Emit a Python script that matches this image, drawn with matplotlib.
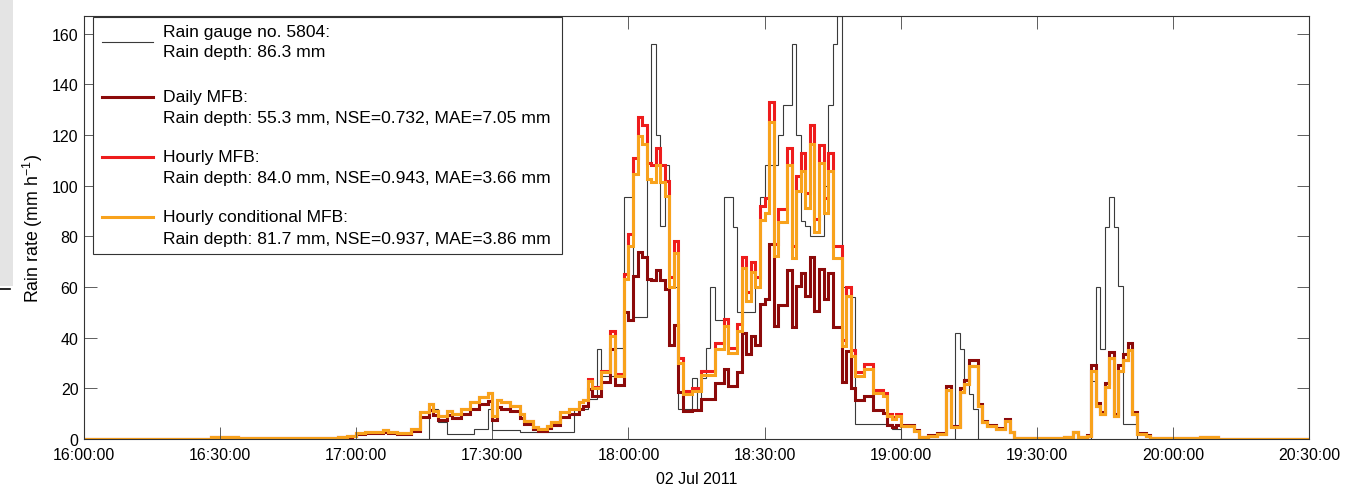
import datetime as dt

import numpy as np
import matplotlib
matplotlib.use("Agg")
import matplotlib.pyplot as plt
import matplotlib.dates as mdates
from matplotlib.lines import Line2D
from matplotlib.patches import Rectangle

plt.rcParams["font.family"] = ["Liberation Sans", "DejaVu Sans"]
plt.rcParams["mathtext.default"] = "regular"

W, H = 1370, 485
T0 = dt.datetime(2011, 7, 2, 16, 0)
N_MIN = 270        # 16:00 -> 20:30, one value per minute
FIRST_MIN = 20     # the lists below start at 16:20 (zero before / after)

# rain rate (mm/h), one value per minute from 16:20 to 20:19
gauge = [
    0, 0, 0, 0, 0, 0, 0, 0, 0, 0,                      # 16:20
    0, 0, 0, 0, 0, 0, 0, 0, 0, 0,                      # 16:30
    0, 0, 0, 0, 0, 0, 0, 0, 0, 0,                      # 16:40
    0, 0, 0, 0, 0, 0, 0, 0, 0, 0,                      # 16:50
    0, 0, 0, 0, 0, 0, 0, 0, 0, 0,                      # 17:00
    0, 0, 0, 0, 0, 0, 12, 12, 6.6, 6.6,                # 17:10
    2, 2, 2, 2, 2, 2, 4, 4, 4, 12,                     # 17:20
    3.5, 3.5, 3.5, 3.5, 3.5, 3.5, 2.6, 2.6, 2.6, 2.6,  # 17:30
    2.6, 2.6, 2.6, 2.6, 2.6, 2.6, 2.6, 2.6, 12, 12,    # 17:40
    12, 15.8, 15.8, 35.6, 25, 25, 25, 36, 36, 95.5,    # 17:50
    95.5, 48, 48, 48, 109, 156, 120, 84, 108, 60,      # 18:00
    60, 12, 12, 12, 24, 12, 24, 36, 60, 47,            # 18:10
    47, 95.5, 95.5, 83.6, 50, 50, 50, 50, 60, 95.6,    # 18:20
    108, 108, 108, 120, 132, 132, 156, 120, 86, 84,    # 18:30
    80, 80, 80, 100, 132, 156, 167, 60, 56, 56,        # 18:40
    6, 6, 6, 6, 6, 6, 6, 6, 4, 4,                      # 18:50
    0, 0, 0, 0, 0, 0, 0, 0, 0, 0,                      # 19:00
    0, 0, 42, 35.6, 23.7, 17.8, 11.9, 0, 0, 0,         # 19:10
    0, 0, 0, 0, 0, 0, 0, 0, 0, 0,                      # 19:20
    0, 0, 0, 0, 0, 0, 0, 0, 0, 0,                      # 19:30
    0, 0, 23, 60, 35.6, 83.7, 95.6, 83.7, 60.6, 5.9,   # 19:40
    5.9, 5.9, 0, 0, 0, 0, 0, 0, 0, 0,                  # 19:50
    0, 0, 0, 0, 0, 0, 0, 0, 0, 0,                      # 20:00
    0, 0, 0, 0, 0, 0, 0, 0, 0, 0,                      # 20:10
]

daily_mfb = [
    0, 0, 0, 0, 0, 0, 0, 0, 0.6, 0.6,
    0.6, 0.6, 0.6, 0.6, 0.2, 0.2, 0.2, 0.2, 0.2, 0.2,
    0.2, 0.2, 0.2, 0.2, 0.2, 0.5, 0.5, 0.5, 0.5, 0.5,
    0.5, 0.5, 0.5, 0.5, 0.5, 0.5, 0.6, 0.7, 0.9, 1.0,
    2.0, 2.0, 2.4, 2.4, 2.2, 2.2, 2.9, 2.2, 2.2, 2.0,
    2.0, 2.0, 3.3, 3.3, 8.7, 8.7, 11.5, 9.3, 7.6, 7.6,
    9.3, 8.2, 8.2, 9.9, 9.9, 12.0, 12.0, 13.7, 13.7, 15.1,
    7.6, 12.6, 12.0, 12.0, 11.0, 11.0, 8.2, 6.0, 6.0, 3.8,
    3.3, 3.3, 4.4, 5.5, 5.5, 8.7, 8.7, 9.9, 9.9, 12.0,
    12.9, 19.7, 17.0, 17.0, 22.4, 22.4, 35.5, 21.3, 21.3, 50.0,
    47, 64.4, 73.7, 71.9, 63.2, 62.6, 66.7, 62.6, 59.2, 37.1,
    45.2, 18.6, 11.0, 11.0, 11.6, 11.6, 15.7, 15.7, 15.7, 22.0,
    22.0, 27.6, 20.9, 20.9, 26.4, 41.8, 33.6, 40.6, 37.1, 53.4,
    55.1, 77.1, 44.7, 52.8, 52.8, 66.7, 44.1, 60.3, 65.5, 56.3,
    71.9, 50.5, 67.3, 55.1, 65.5, 44.1, 44.1, 22.6, 34.8, 20.3,
    15.4, 15.4, 17.1, 17.1, 11.3, 11.3, 10.4, 5.7, 4.9, 5.7,
    5.7, 5.7, 5.7, 3.6, 0.8, 0.8, 1.4, 1.4, 2.2, 2.2,
    21.0, 5.0, 5.0, 20.2, 23.4, 31.3, 31.3, 14.0, 7.1, 5.7,
    5.7, 4.3, 4.3, 7.8, 2.8, 0.3, 0.3, 0.3, 0.3, 0.3,
    0.3, 0.3, 0.3, 0.3, 0.3, 0.3, 0.8, 0.8, 2.8, 0.8,
    0.8, 1.4, 29.3, 14.3, 10.7, 22.0, 34.5, 9.9, 29.2, 33.5,
    37.8, 10.7, 2.2, 2.2, 1.4, 0.3, 0.3, 0.2, 0.2, 0.2,
    0.2, 0.2, 0.2, 0.2, 0.2, 0.2, 0.9, 0.9, 0.9, 0.9,
    0, 0, 0, 0, 0, 0, 0, 0, 0, 0,
]

hourly_mfb = [
    0, 0, 0, 0, 0, 0, 0, 0, 0.6, 0.6,
    0.6, 0.6, 0.6, 0.6, 0.2, 0.2, 0.2, 0.2, 0.2, 0.2,
    0.2, 0.2, 0.2, 0.2, 0.2, 0.5, 0.5, 0.5, 0.5, 0.5,
    0.5, 0.5, 0.5, 0.5, 0.5, 0.5, 0.7, 0.8, 1.0, 1.2,
    2.4, 2.4, 2.9, 2.9, 2.6, 2.6, 3.5, 2.6, 2.6, 2.4,
    2.4, 2.4, 4.0, 4.0, 10.5, 10.5, 13.8, 11.2, 9.2, 9.2,
    11.2, 9.9, 9.9, 11.9, 11.9, 14.5, 14.5, 16.5, 16.5, 18.2,
    9.2, 15.2, 14.5, 14.5, 13.2, 13.2, 9.9, 7.2, 7.2, 4.6,
    4.0, 4.0, 5.3, 6.6, 6.6, 10.5, 10.5, 11.9, 11.9, 14.5,
    15.5, 23.7, 20.5, 20.5, 27.0, 27.0, 42.8, 25.7, 25.7, 65.0,
    81, 111, 127, 124, 109, 108, 115, 108, 102, 64,
    78, 32, 19, 19, 20, 20, 27, 27, 27, 38,
    38, 47.5, 36, 36, 45.5, 72, 58, 70, 64, 92,
    95, 133, 77, 91, 91, 115, 76, 104, 113, 97,
    124, 87, 116, 95, 113, 76, 76, 39, 60, 35,
    26.5, 26.5, 29.5, 29.5, 19.5, 19.5, 18, 9.8, 8.5, 9.8,
    5.3, 5.3, 5.3, 3.3, 0.7, 0.7, 1.3, 1.3, 2.0, 2.0,
    19.5, 4.6, 4.6, 18.7, 21.7, 29, 29, 13, 6.6, 5.3,
    5.3, 4.0, 4.0, 7.2, 2.6, 0.3, 0.3, 0.3, 0.3, 0.3,
    0.3, 0.3, 0.3, 0.3, 0.3, 0.3, 0.7, 0.7, 2.6, 0.7,
    0.7, 1.3, 27, 13.2, 9.9, 20.4, 31.9, 9.2, 27, 31,
    35, 9.9, 2, 2, 1.3, 0.3, 0.3, 0.2, 0.2, 0.2,
    0.2, 0.2, 0.2, 0.2, 0.2, 0.2, 0.9, 0.9, 0.9, 0.9,
    0, 0, 0, 0, 0, 0, 0, 0, 0, 0,
]

hourly_cond_mfb = [
    0, 0, 0, 0, 0, 0, 0, 0, 0.6, 0.6,
    0.6, 0.6, 0.6, 0.6, 0.2, 0.2, 0.2, 0.2, 0.2, 0.2,
    0.2, 0.2, 0.2, 0.2, 0.2, 0.5, 0.5, 0.5, 0.5, 0.5,
    0.5, 0.5, 0.5, 0.5, 0.5, 0.5, 0.7, 0.8, 1.0, 1.2,
    2.4, 2.4, 2.9, 2.9, 2.6, 2.6, 3.5, 2.6, 2.6, 2.4,
    2.4, 2.4, 4.0, 4.0, 10.5, 10.5, 13.8, 11.2, 9.2, 9.2,
    11.2, 9.9, 9.9, 11.9, 11.9, 14.5, 14.5, 16.5, 16.5, 18.2,
    9.2, 15.2, 14.5, 14.5, 13.2, 13.2, 9.9, 7.2, 7.2, 4.6,
    4.0, 4.0, 5.3, 6.6, 6.6, 10.5, 10.5, 11.9, 11.9, 14.5,
    15.5, 23.0, 20.0, 20.0, 26.5, 26.5, 40.8, 25.0, 25.0, 63.0,
    76, 104.5, 119.5, 116.5, 102.5, 101.5, 108, 101.5, 96, 60,
    73.5, 30, 17.8, 17.8, 18.8, 18.8, 25.4, 25.4, 25.4, 35.7,
    35.7, 44.7, 33.8, 33.8, 42.8, 67.7, 54.5, 65.8, 60.2, 86.5,
    89.3, 125, 72.4, 85.5, 85.5, 108, 71.4, 97.8, 106, 91.2,
    116.6, 81.8, 109, 89.3, 106, 71.4, 71.4, 36.7, 56.4, 32.9,
    24.9, 24.9, 27.7, 27.7, 18.3, 18.3, 17, 9.2, 8, 9.2,
    5.3, 5.3, 5.3, 3.3, 0.7, 0.7, 1.3, 1.3, 2.0, 2.0,
    19.5, 4.6, 4.6, 18.7, 21.7, 29, 29, 13, 6.6, 5.3,
    5.3, 4.0, 4.0, 7.2, 2.6, 0.3, 0.3, 0.3, 0.3, 0.3,
    0.3, 0.3, 0.3, 0.3, 0.3, 0.3, 0.7, 0.7, 2.6, 0.7,
    0.7, 1.3, 27, 13.2, 9.9, 20.4, 31.9, 9.2, 27, 31,
    35, 9.9, 2, 2, 1.3, 0.3, 0.3, 0.2, 0.2, 0.2,
    0.2, 0.2, 0.2, 0.2, 0.2, 0.2, 0.9, 0.9, 0.9, 0.9,
    0, 0, 0, 0, 0, 0, 0, 0, 0, 0,
]

labels = [
    ("Rain gauge no. 5804:", "Rain depth: 86.3 mm"),
    ("Daily MFB:", "Rain depth: 55.3 mm, NSE=0.732, MAE=7.05 mm"),
    ("Hourly MFB:", "Rain depth: 84.0 mm, NSE=0.943, MAE=3.66 mm"),
    ("Hourly conditional MFB:", "Rain depth: 81.7 mm, NSE=0.937, MAE=3.86 mm"),
]
series = [gauge, daily_mfb, hourly_mfb, hourly_cond_mfb]
colors = ["#3a3a3a", "#8c0a0a", "#ee1c1c", "#f8a21c"]
widths = [0.8, 2.2, 2.2, 2.2]


def pad(vals):
    out = np.zeros(N_MIN)
    out[FIRST_MIN:FIRST_MIN + len(vals)] = vals
    return out


def fx(px):
    return px / W


def fy(py):
    return 1 - py / H


edges = mdates.date2num([T0 + dt.timedelta(minutes=i) for i in range(N_MIN + 1)])

fig = plt.figure(figsize=(W / 100, H / 100), dpi=100)

# grey strip + tick left over from the cropped neighbouring panel
fig.patches.append(Rectangle((0, fy(287)), fx(13), 1 - fy(287),
                             transform=fig.transFigure, facecolor="#e4e4e4",
                             edgecolor="none", zorder=0))
fig.add_artist(Line2D([0, fx(10)], [fy(290), fy(290)], color="black", lw=1.2,
                      transform=fig.transFigure))

ax = fig.add_axes([fx(84), fy(440), fx(1309) - fx(84), fy(17) - fy(440)])

for vals, c, lw in zip(series, colors, widths):
    ax.stairs(pad(vals), edges, color=c, lw=lw, baseline=None)

ax.set_xlim(edges[0], edges[-1])
ax.set_ylim(0, 167)
ax.set_yticks(range(0, 161, 20))
ax.xaxis.set_major_locator(mdates.MinuteLocator(byminute=[0, 30]))
ax.xaxis.set_major_formatter(mdates.DateFormatter("%H:%M:%S"))
ax.tick_params(direction="in", top=True, right=True, length=9, width=0.6,
               color="#444444", labelsize=11.5)
ax.tick_params(axis="x", pad=6)
ax.tick_params(axis="y", pad=4)
for s in ax.spines.values():
    s.set_linewidth(0.8)
    s.set_color("#333333")
ax.set_xlabel("02 Jul 2011", fontsize=11.5, labelpad=6)
ax.set_ylabel("Rain rate (mm h$^{-1}$)", fontsize=12.8, labelpad=5)

# legend box drawn by hand (two-line labels, handle beside first line)
fig.patches.append(Rectangle((fx(93), fy(255)), fx(562) - fx(93), fy(18) - fy(255),
                             transform=fig.transFigure, facecolor="white",
                             edgecolor="#333333", lw=0.8, zorder=5))
line_y = [43, 98, 158, 218]
text_y = [(33, 53), (98, 118), (158, 178), (218, 240)]
for (l1, l2), c, lw, hy, (t1, t2) in zip(labels, colors, widths, line_y, text_y):
    fig.add_artist(Line2D([fx(102), fx(153)], [fy(hy), fy(hy)], color=c, lw=lw,
                          transform=fig.transFigure, zorder=6))
    fig.text(fx(163), fy(t1), l1, fontsize=12.6, va="center", ha="left", zorder=6)
    fig.text(fx(163), fy(t2), l2, fontsize=12.6, va="center", ha="left", zorder=6)

fig.savefig("out.png", dpi=100)
